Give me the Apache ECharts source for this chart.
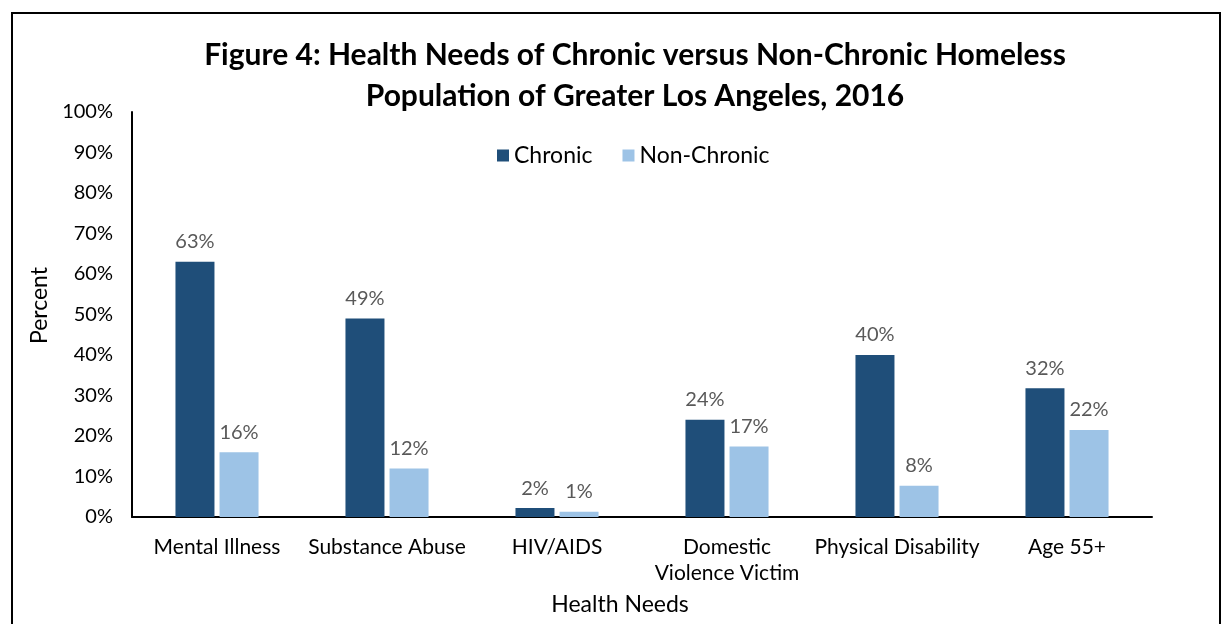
<!DOCTYPE html>
<html>
<head>
<meta charset="utf-8">
<script src="https://cdn.jsdelivr.net/npm/echarts@6/dist/echarts.min.js"></script>
<style>
  html, body { margin: 0; padding: 0; background: #fff; overflow: hidden; }
  #frame { position: absolute; left: 11px; top: 12px; width: 1206px; height: 700px; border: 2px solid #000; }
  #chart { position: absolute; left: 0; top: 0; width: 1232px; height: 624px; }
</style>
</head>
<body>
<div id="frame"></div>
<div id="chart"></div>
<script>
  // values
  var categories = ['Mental Illness', 'Substance Abuse', 'HIV/AIDS', 'Domestic\nViolence Victim', 'Physical Disability', 'Age 55+'];
  var chronic = [63, 49, 2.2, 24, 40, 31.8];
  var nonChronic = [16, 12, 1.3, 17.4, 7.7, 21.5];
  var yTicks = [0, 10, 20, 30, 40, 50, 60, 70, 80, 90, 100];

  var font = 'Lato, "Open Sans", sans-serif';

  function barSeries(name, data, color) {
    return {
      name: name,
      type: 'bar',
      data: data,
      barWidth: 39,
      barGap: '13%',
      itemStyle: { color: color },
      label: {
        show: true,
        position: 'top',
        distance: 10,
        color: '#595959',
        fontFamily: font,
        fontSize: 20,
        formatter: function (p) { return Math.round(p.value) + '%'; }
      }
    };
  }

  var chart = echarts.init(document.getElementById('chart'));
  chart.setOption({
    animation: false,
    title: {
      text: 'Figure 4: Health Needs of Chronic versus Non-Chronic Homeless\nPopulation of Greater Los Angeles, 2016',
      left: 630,
      top: 30,
      textAlign: 'center',
      textStyle: { fontFamily: font, fontWeight: 'bold', fontSize: 30, lineHeight: 41, color: '#000' }
    },
    legend: {
      data: ['Chronic', 'Non-Chronic'],
      top: 139,
      left: 492,
      icon: 'rect',
      itemWidth: 12,
      itemHeight: 12,
      itemGap: 30,
      textStyle: { fontFamily: font, fontSize: 23, color: '#000' }
    },
    grid: { left: 132, right: 80, top: 112, bottom: 107 },
    xAxis: {
      type: 'category',
      data: categories,
      name: 'Health Needs',
      nameLocation: 'middle',
      nameGap: 76,
      nameTextStyle: { fontFamily: font, fontSize: 23, color: '#000', padding: [0, 44, 0, 0] },
      axisLine: { lineStyle: { color: '#000', width: 2 } },
      axisTick: { show: false },
      axisLabel: { fontFamily: font, fontSize: 21, color: '#000', margin: 17, lineHeight: 26, interval: 0 }
    },
    yAxis: {
      type: 'value',
      min: yTicks[0],
      max: yTicks[yTicks.length - 1],
      interval: 10,
      name: 'Percent',
      nameLocation: 'middle',
      nameGap: 78,
      nameTextStyle: { fontFamily: font, fontSize: 23, color: '#000', padding: [0, 0, 0, 18] },
      axisLine: { show: true, lineStyle: { color: '#000', width: 2 } },
      axisTick: { show: false },
      splitLine: { show: false },
      axisLabel: { fontFamily: font, fontSize: 20, color: '#000', margin: 19, formatter: '{value}%' }
    },
    series: [
      barSeries('Chronic', chronic, '#1F4E79'),
      barSeries('Non-Chronic', nonChronic, '#9DC3E6')
    ]
  });
</script>
</body>
</html>
